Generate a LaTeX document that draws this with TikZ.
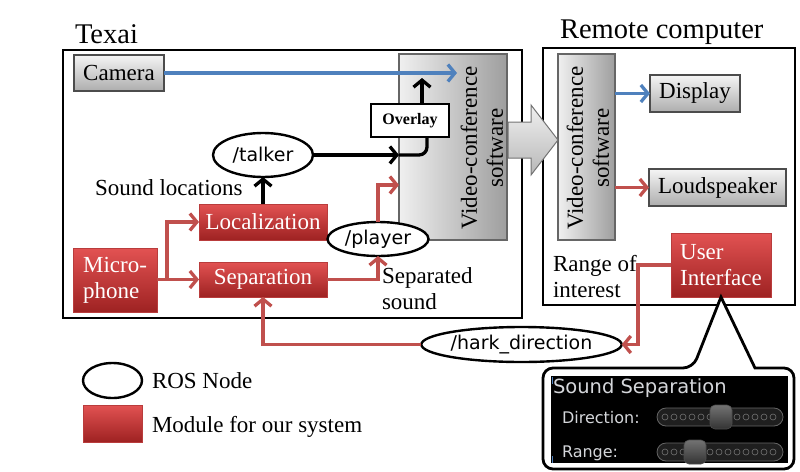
\documentclass[tikz,border=0pt]{standalone}
\usepackage{fontspec}
\setmainfont{Liberation Serif}
\newfontfamily\rossans{DejaVu Sans}
\usetikzlibrary{shapes.geometric,arrows.meta}

\definecolor{vidblue}{RGB}{79,129,189}
\definecolor{sndred}{RGB}{192,80,77}
\definecolor{modtop}{RGB}{226,82,82}
\definecolor{modbot}{RGB}{158,34,34}
\definecolor{modedge}{RGB}{185,60,60}
\definecolor{uitext}{RGB}{212,214,218}

\tikzset{
	every node/.style={font=\fontsize{23}{26}\selectfont, inner sep=0pt, outer sep=0pt},
	graybox/.style={draw=black!70, line width=1.2pt, top color=black!4, bottom color=black!32},
	vcbox/.style={draw=black!60, line width=1.2pt, left color=black!6, right color=black!38},
	module/.style={draw=modedge, line width=0.8pt, top color=modtop, bottom color=modbot, text=white},
	rosnode/.style={ellipse, draw, line width=2.4pt, fill=white, font=\rossans\fontsize{19}{22}\selectfont},
	frame/.style={draw, line width=2.8pt},
	arr/.style={-{Straight Barb[length=7pt,width=17pt]}, line width=3.3pt},
	blackarr/.style={arr, black},
	bluearr/.style={arr, vidblue},
	redarr/.style={arr, sndred},
	slidertrack/.style={fill=black!88, draw=black!60, line width=0.8pt, rounded corners=9pt},
	sliderknob/.style={draw=black!70, line width=0.6pt, top color=black!55, bottom color=black!80, rounded corners=5pt},
}

\begin{document}
\begin{tikzpicture}[x=1pt, y=-1pt]
	\useasboundingbox (0,0) rectangle (800,471);
	\node[anchor=base west, font=\fontsize{28.5}{30}\selectfont] (texailabel) at (75,43) {Texai};
	\draw[frame] (63,50) rectangle (522,318);
	\node[anchor=base west, font=\fontsize{28.5}{30}\selectfont] (remotelabel) at (560,38) {Remote computer};
	\draw[frame] (543,48) rectangle (795,305);
	\node[graybox, minimum width=90pt, minimum height=36pt] (camera) at (119,73) {Camera};
	\node[vcbox, minimum width=108pt, minimum height=186pt] (vcs) at (453,147) {};
	\node[rotate=90, align=center] (vcstext) at (482,148) {Video-conference\\software};
	\node[draw, line width=2.2pt, fill=white, minimum width=78pt, minimum height=33pt, font=\bfseries\fontsize{16}{18}\selectfont] (overlay) at (410,120.5) {Overlay};
	\node[rosnode, minimum width=100pt, minimum height=44pt] (talker) at (263,155) {/talker};
	\node[anchor=base west] (soundloc) at (95,195) {Sound locations};
	\node[module, minimum width=128pt, minimum height=36pt] (loc) at (263,222) {Localization};
	\node[module, minimum width=128pt, minimum height=35pt] (sep) at (263,279.5) {Separation};
	\node[module, minimum width=84pt, minimum height=64pt, align=left] (mic) at (115,280) {Micro-\\phone};
	\node[rosnode, minimum width=101pt, minimum height=34pt] (player) at (378,239) {/player};
	\node[anchor=west, align=left] (septext) at (382,289) {Separated\\sound};
	\node[vcbox, minimum width=57pt, minimum height=186pt] (rvcs) at (586.5,147) {};
	\node[rotate=90, align=center] (rvcstext) at (588,148) {Video-conference\\software};
	\node[graybox, minimum width=90pt, minimum height=37pt] (display) at (695,93.5) {Display};
	\node[graybox, minimum width=137pt, minimum height=37pt] (speaker) at (717.5,187.5) {Loudspeaker};
	\node[anchor=west, align=left] (range) at (553,277) {Range of\\interest};
	\node[module, minimum width=100pt, minimum height=64pt, align=left] (ui) at (721,265) {User\\Interface};
	\node[rosnode, minimum width=173pt, minimum height=35pt] (hark) at (521.5,344.5) {/hark\_direction};
	\node[rosnode, minimum width=59pt, minimum height=35pt] (legros) at (112.5,380.5) {};
	\node[anchor=base west] (legrostext) at (152,388) {ROS Node};
	\node[module, minimum width=59pt, minimum height=37pt] (legmod) at (112.5,423.5) {};
	\node[anchor=base west] (legmodtext) at (152,432) {Module for our system};
	\draw[draw=black!55, line width=1pt, top color=black!6, bottom color=black!28] (508,122) -- (531,122) -- (531,105) -- (558,140) -- (531,175) -- (531,158) -- (508,158) -- cycle;
	\coordinate (camin) at (457,73);
	\coordinate (micfork) at (167,279.5);
	\coordinate (vcsound) at (399,185);
	\draw[bluearr] (camera.east) -- (camin);
	\draw[blackarr] (loc.north) -- (talker.south);
	\draw[blackarr] (talker.east) -- (talker.east -| vcs.west);
	\draw[line width=3.3pt, rounded corners=8pt] (talker.east -| vcs.west) -| ([xshift=17pt]overlay.south);
	\draw[blackarr] ([xshift=12pt]overlay.north) -- ++(0,-26);
	\draw[redarr] (mic.east |- sep.west) -- (sep.west);
	\draw[redarr] (micfork) |- (loc.west);
	\draw[redarr] (sep.east) -| (player.south);
	\draw[redarr] (player.north) |- (vcsound);
	\draw[redarr] (hark.west) -| (sep.south);
	\draw[redarr] (ui.west) -- ++(-33,0) |- (hark.east);
	\draw[bluearr] (rvcs.east |- display) -- (display.west);
	\draw[redarr] (rvcs.east |- speaker) -- (speaker.west);
	\draw[line width=2.8pt, fill=white] (693,368) -- (ui.south) -- (755,368) [rounded corners=10pt] -- (794,368) -- (794,469) -- (543,469) -- (543,368) -- cycle;
	\fill[black] (551,376) rectangle (788,463);
	\draw[vidblue, line width=1pt] (552,377) -- (552,384);
	\draw[vidblue, line width=1pt] (552,456) -- (552,463);
	\node[anchor=base west, text=uitext, font=\rossans\fontsize{19.5}{22}\selectfont] (paneltitle) at (553,393) {Sound Separation};
	\node[anchor=base west, text=uitext, font=\rossans\fontsize{16}{18}\selectfont] (dirlabel) at (562,423) {Direction:};
	\node[anchor=base west, text=uitext, font=\rossans\fontsize{16}{18}\selectfont] (rangelabel) at (562,457) {Range:};
	\foreach \sy/\kx in {417/721, 452/695} {
		\draw[slidertrack] (657,{\sy-9}) rectangle (783,{\sy+9});
		\foreach \cx in {665,674,...,777}
			\draw[black!55, line width=0.6pt] (\cx,\sy) circle[radius=3pt];
		\draw[sliderknob] ({\kx-11},{\sy-12}) rectangle ({\kx+11},{\sy+12});
	}
\end{tikzpicture}
\end{document}
